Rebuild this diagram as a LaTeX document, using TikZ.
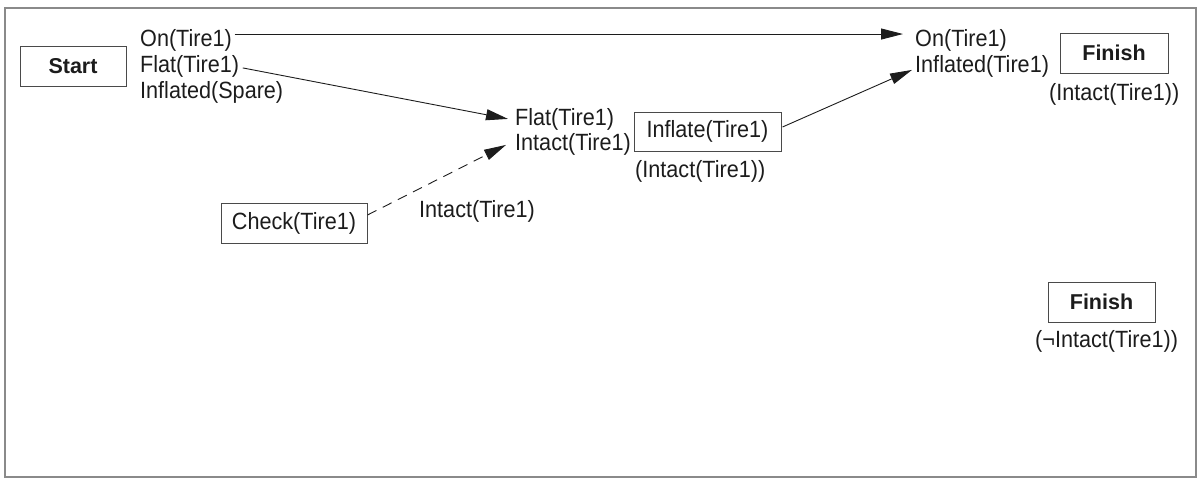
\documentclass[tikz,border=0pt]{standalone}
\usepackage{fontspec}
\setmainfont[FakeStretch=0.92]{Liberation Sans}
\newfontfamily\plainsans{Liberation Sans}
\usetikzlibrary{arrows.meta,calc}
\definecolor{ink}{HTML}{1C1C1C}
\definecolor{boxline}{HTML}{4A4A4A}
\definecolor{framec}{HTML}{8A8A8A}
\tikzset{
  lit/.style={inner sep=0pt, anchor=base west, text=ink, font=\fontsize{23.5}{25}\selectfont},
  actbox/.style={draw=boxline, line width=1pt, minimum height=39pt, inner sep=0pt, text=ink, font=\fontsize{23.5}{25}\selectfont},
  endbox/.style={draw=boxline, line width=1pt, minimum height=40pt, inner sep=0pt, text=ink, font=\plainsans\bfseries\fontsize{21.5}{23}\selectfont},
  link/.style={draw=ink, line width=0.9pt, -{Triangle[length=22pt,width=11pt]}},
  dlink/.style={link, dash pattern=on 10pt off 7pt}
}
\begin{document}
\begin{tikzpicture}[x=1pt,y=-1pt]
\useasboundingbox (0,0) rectangle (1204,488);
\draw[framec, line width=1.5pt] (5,8) rectangle (1196,477);
% start
\node[endbox, minimum width=106pt] (start) at (73,66.5) {Start};
\node[lit] (on0) at (140,46.5) {On(Tire1)};
\node[lit] (flat0) at (140,72.5) {Flat(Tire1)};
\node[lit] (infsp) at (140,98.5) {Inflated(Spare)};
% middle
\node[lit] (flat1) at (515,125) {Flat(Tire1)};
\node[lit] (intact1) at (515,150) {Intact(Tire1)};
\node[actbox, minimum width=147pt] (inflate) at (707.5,131.5) {Inflate(Tire1)};
\node[lit] (cond1) at (635,177) {(Intact(Tire1))};
% check
\node[actbox, minimum width=146pt, minimum height=40pt] (check) at (294,223) {Check(Tire1)};
\node[lit] (intact0) at (419,217) {Intact(Tire1)};
% finish
\node[lit] (on1) at (915,46.5) {On(Tire1)};
\node[lit] (inf1) at (915,72.5) {Inflated(Tire1)};
\node[endbox, minimum width=108pt] (finish1) at (1114,53) {Finish};
\node[lit] (cond2) at (1049,100) {(Intact(Tire1))};
\node[endbox, minimum width=107pt] (finish2) at (1101.5,302) {Finish};
\node[lit] (cond3) at (1035,347) {(¬Intact(Tire1))};
% links
\draw[link] ($(on0.east)+(2.5,-6.4)$) -- ($(on1.west)+(-12,-6.4)$);
\draw[link] ($(flat0.east)+(3.5,1.5)$) -- ($(flat1.west)+(-7,0)$);
\draw[dlink] ($(check.east)+(0,-8)$) -- ($(intact1.west)+(-9,1)$);
\draw[link] ($(inflate.east)+(1,-4.5)$) -- ($(inf1.west)+(-3,3.5)$);
\end{tikzpicture}
\end{document}
